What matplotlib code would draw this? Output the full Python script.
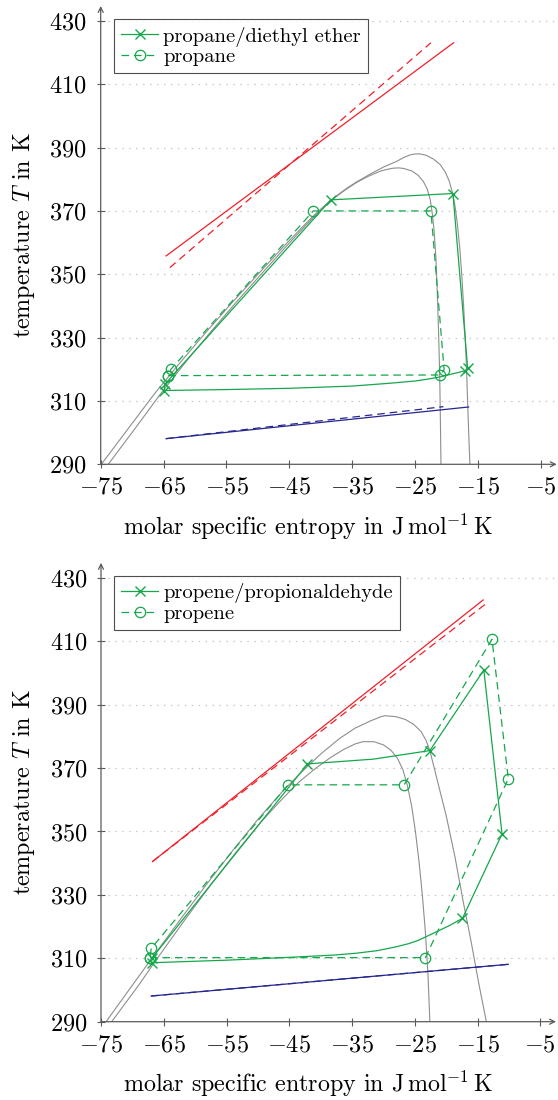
import matplotlib
matplotlib.use("Agg")
import matplotlib.pyplot as plt

plt.rcParams['font.family'] = 'serif'
plt.rcParams['font.serif'] = ['cmr10']
plt.rcParams['mathtext.fontset'] = 'cm'
plt.rcParams['axes.unicode_minus'] = False
plt.rcParams['lines.scale_dashes'] = False

GREEN = '#14a84b'
RED = '#f0202a'
BLUE = '#26268f'
GRAY = '#8e8e8e'
AXC = '#5a5a5a'

x_ticks = [-75, -65, -55, -45, -35, -25, -15, -5]
y_ticks = [290, 310, 330, 350, 370, 390, 410, 430]

# ---------------- top panel: propane / diethyl ether ----------------
top_dome_tall_s = [-74.9, -70.5, -66.4, -62, -58, -54, -50, -46, -43, -41, -38.5, -36,
                   -34.3, -32, -30, -28, -26.8, -25.8, -25.0, -24.2, -23.3, -22.1, -21, -20.2,
                   -19.6, -19.1, -18.7, -18.3, -17.9, -17.6, -17.3, -17.0, -16.8, -16.6, -16.4, -16.3]
top_dome_tall_T = [290, 301.6, 312.4, 323, 332.3, 341.3, 350, 358.6, 364.8, 368.8, 373.3, 377,
                   379.2, 381.8, 383.9, 385.6, 386.9, 387.7, 388.0, 388.0, 387.6, 386.4, 384.6,
                   382.2, 379.5, 376, 372, 366, 358, 350, 340, 328, 318, 306, 295, 290]
top_dome_low_s = [-73.8, -69.5, -65.5, -61.2, -57.3, -53.4, -49.5, -45.6, -42.7, -40.8, -38.4,
                  -36, -34.3, -32.5, -30.5, -29.3, -28.5, -27.6, -26.8, -25.5, -24.5, -23.7,
                  -23.1, -22.6, -22.3, -22.0, -21.7, -21.5, -21.3, -21.1, -21.0, -20.9]
top_dome_low_T = [290, 301.4, 312.2, 323, 332.3, 341.3, 350, 358.6, 364.8, 368.8, 373.3,
                  376.8, 379.0, 380.9, 382.6, 383.2, 383.5, 383.6, 383.4, 382.6, 381.2, 379.3,
                  377, 373.5, 369.5, 364, 355, 345, 333, 318, 305, 290]

top_mix_s = [-64.9, -55, -44.9, -35, -29.0, -25, -23, -21.05, -17.1, -16.65, -19.0, -38.4, -64.8, -64.9]
top_mix_T = [313.3, 313.6, 314.0, 314.7, 315.6, 316.3, 316.9, 317.6, 319.5, 320.3, 375.5, 373.5, 315.3, 313.3]
top_mix_mark = [0, 8, 9, 10, 11, 12]

top_pure_s = [-64.25, -21.05, -20.4, -22.5, -41.2, -63.8, -64.25]
top_pure_T = [318.0, 318.2, 319.8, 370.0, 370.0, 320.1, 318.0]

top_hot_mix_s = [-64.6, -18.9]
top_hot_mix_T = [355.8, 423.1]
top_hot_pure_s = [-64.0, -22.5]
top_hot_pure_T = [352.1, 423.1]
top_cold_mix_s = [-64.6, -16.5]
top_cold_mix_T = [298.1, 308.1]
top_cold_pure_s = [-64.6, -20.5]
top_cold_pure_T = [298.1, 308.2]

# ---------------- bottom panel: propene / propionaldehyde ----------------
bot_dome_tall_s = [-74.2, -70, -66.9, -62, -58, -54, -50, -46, -43, -40, -37, -34.5, -32,
                   -30.5, -29.8, -28, -26.5, -25.2, -24.0, -23.2, -22.6, -21.4, -20.0,
                   -18.6, -17.3, -16.0, -14.8, -13.6]
bot_dome_tall_T = [290, 301.5, 310, 323.2, 333.8, 344, 353.8, 362.8, 368.8, 374.4, 379.3, 382.6,
                   384.9, 386.1, 386.5, 386.2, 385.3, 383.8, 381.5, 378.7, 375.5, 366, 355,
                   342, 328, 315, 302, 290]
bot_dome_low_s = [-73.3, -69, -66.2, -61.5, -57.5, -53.5, -49.5, -46, -43.5, -41, -38.5, -36.3,
                  -34.5, -33.3, -31.5, -30.0, -28.8, -27.8, -26.9, -26.2, -25.5, -24.9, -24.3,
                  -23.8, -23.3, -22.9, -22.6]
bot_dome_low_T = [290, 301.5, 309.5, 322.5, 333.2, 343.4, 353, 360.5, 365.5, 369.6, 373.2, 375.9,
                  377.6, 378.3, 378.3, 377.3, 375.6, 373.2, 369.5, 364.7, 358, 350, 340,
                  330, 318, 305, 290]

bot_mix_s = [-66.9, -55, -44.9, -38, -34.3, -31, -28, -26, -24.5, -23, -21.5, -19.5, -17.4,
             -11.1, -14.0, -22.6, -31.6, -42.1, -66.9, -66.9]
bot_mix_T = [308.6, 309.4, 310.3, 311.0, 311.6, 312.4, 313.6, 314.6, 315.6, 317.0, 318.4, 320.3, 322.6,
             349.2, 400.9, 375.5, 372.8, 371.3, 310.0, 308.6]
bot_mix_mark = [0, 12, 13, 14, 15, 17, 18]

bot_pure_s = [-67.2, -23.3, -10.1, -12.7, -26.7, -45.2, -67.0, -67.2]
bot_pure_T = [310.2, 310.2, 366.6, 410.6, 364.7, 364.7, 313.1, 310.2]

bot_hot_mix_s = [-66.8, -14.1]
bot_hot_mix_T = [340.5, 423.0]
bot_hot_pure_s = [-66.8, -13.4]
bot_hot_pure_T = [340.5, 422.2]
bot_cold_mix_s = [-67.0, -10.1]
bot_cold_mix_T = [298.1, 308.1]
bot_cold_pure_s = [-67.0, -10.1]
bot_cold_pure_T = [298.1, 308.1]

FS_TICK = 17.5
FS_LAB = 17.3
FS_LEG = 14.8
DASH = (5.5, 3.5)


def style_axes(ax):
    ax.set_xlim(-75, -2.5)
    ax.set_ylim(290, 434.7)
    for sp in ax.spines.values():
        sp.set_visible(False)
    ax.annotate('', xy=(1, 0), xytext=(0, 0), xycoords='axes fraction',
                arrowprops=dict(arrowstyle='->', color=AXC, lw=0.9,
                                shrinkA=0, shrinkB=0, mutation_scale=9))
    ax.annotate('', xy=(0, 1), xytext=(0, 0), xycoords='axes fraction',
                arrowprops=dict(arrowstyle='->', color=AXC, lw=0.9,
                                shrinkA=0, shrinkB=0, mutation_scale=9))
    ax.set_xticks(x_ticks, labels=['$%d$' % v for v in x_ticks])
    ax.set_yticks(y_ticks, labels=['$%d$' % v for v in y_ticks])
    ax.tick_params(direction='inout', length=6, width=0.8, color=AXC,
                   labelsize=FS_TICK)
    ax.tick_params(axis='x', pad=6)
    ax.tick_params(axis='y', pad=7)
    for t in y_ticks[1:]:
        ax.axhline(t, color='#c4c4c4', lw=0.9, ls=(0, (1, 4)), zorder=0)
    ax.set_ylabel('temperature $T$ in K', fontsize=FS_LAB)
    ax.set_xlabel(r'molar specific entropy in $\mathrm{J\,mol^{-1}\,K}$', fontsize=FS_LAB)
    ax.yaxis.set_label_coords(-0.14, 0.5)
    ax.xaxis.set_label_coords(0.455, -0.102)


def draw_panel(ax, d1s, d1T, d2s, d2T, ms_, mT_, mmark, ps_, pT_,
               hms, hmT, hps, hpT, cms, cmT, cps, cpT, name_mix, name_pure):
    style_axes(ax)
    ax.plot(d1s, d1T, color=GRAY, lw=0.8, zorder=1)
    ax.plot(d2s, d2T, color=GRAY, lw=0.8, zorder=1)
    ax.plot(hms, hmT, color=RED, lw=0.9, zorder=2)
    ax.plot(hps, hpT, color=RED, lw=0.9, dashes=DASH, zorder=2)
    ax.plot(cms, cmT, color=BLUE, lw=0.9, zorder=2)
    ax.plot(cps, cpT, color=BLUE, lw=0.9, dashes=DASH, zorder=2)
    ax.plot(ms_, mT_, color=GREEN, lw=0.9, zorder=3)
    ax.plot([ms_[i] for i in mmark], [mT_[i] for i in mmark], ls='none',
            marker='x', ms=7, mew=1.0, color=GREEN, zorder=4)
    ax.plot(ps_, pT_, color=GREEN, lw=0.9, dashes=DASH, marker='o', ms=7.5,
            mfc='none', mew=0.9, zorder=3)
    h1, = ax.plot([], [], color=GREEN, lw=0.9, marker='x', ms=7, mew=1.0)
    h2, = ax.plot([], [], color=GREEN, lw=0.9, dashes=DASH, marker='o', ms=7.5,
                  mfc='none', mew=0.9)
    leg = ax.legend([h1, h2], [name_mix, name_pure], loc='upper left',
                    bbox_to_anchor=(0.029, 0.971), borderaxespad=0, fontsize=FS_LEG,
                    frameon=True, fancybox=False, edgecolor='#222222',
                    handlelength=1.8, handletextpad=0.25, labelspacing=0.05,
                    borderpad=0.35)
    leg.get_frame().set_linewidth(0.8)


fig = plt.figure(figsize=(5.58, 11), dpi=100)
ax1 = fig.add_axes([100.7 / 558, (1100 - 464.3) / 1100, 456 / 558, 144.7 * 3.167 / 1100])
ax2 = fig.add_axes([101 / 558, (1100 - 1021.7) / 1100, 455 / 558, 144.7 * 3.171 / 1100])

draw_panel(ax1, top_dome_tall_s, top_dome_tall_T, top_dome_low_s, top_dome_low_T,
           top_mix_s, top_mix_T, top_mix_mark, top_pure_s, top_pure_T,
           top_hot_mix_s, top_hot_mix_T, top_hot_pure_s, top_hot_pure_T,
           top_cold_mix_s, top_cold_mix_T, top_cold_pure_s, top_cold_pure_T,
           'propane/diethyl ether', 'propane')
draw_panel(ax2, bot_dome_tall_s, bot_dome_tall_T, bot_dome_low_s, bot_dome_low_T,
           bot_mix_s, bot_mix_T, bot_mix_mark, bot_pure_s, bot_pure_T,
           bot_hot_mix_s, bot_hot_mix_T, bot_hot_pure_s, bot_hot_pure_T,
           bot_cold_mix_s, bot_cold_mix_T, bot_cold_pure_s, bot_cold_pure_T,
           'propene/propionaldehyde', 'propene')

fig.savefig('out.png', dpi=100)
